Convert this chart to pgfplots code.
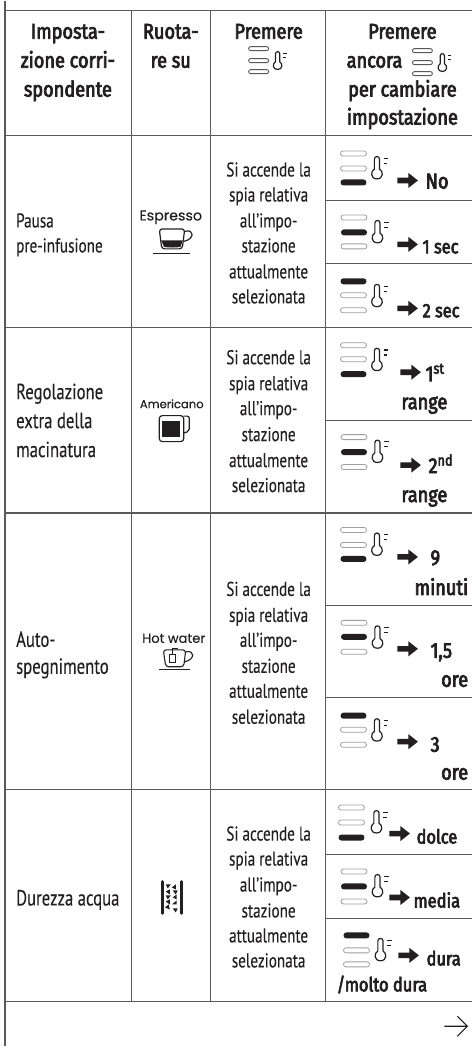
\documentclass[border=0pt]{standalone}
\usepackage{fontspec}
\setmainfont[FakeStretch=0.76,FakeBold=0.2]{PT Sans}
\newfontfamily\pop[FakeBold=0.35]{Poppins}
\newfontfamily\hdf[FakeStretch=0.845,FakeBold=3.4]{Fira Sans}
\usepackage{pgfplots}
\pgfplotsset{compat=1.18}
\definecolor{ink}{HTML}{231F20}
\definecolor{gridc}{HTML}{5A5A5A}
\newcommand{\hl}[4][1.3pt]{\addplot[gridc,line width=#1,forget plot] coordinates {(#2,#4)(#3,#4)};}
\newcommand{\vl}[4][1.3pt]{\addplot[gridc,line width=#1,forget plot] coordinates {(#4,#2)(#4,#3)};}
\newcommand{\bod}[3]{\node[anchor=base,inner sep=0,text=ink,font=\fontsize{20}{24}\selectfont] at (axis cs:#1,#2) {#3};}
\newcommand{\bodl}[3]{\node[anchor=base west,inner sep=0,text=ink,font=\fontsize{20}{24}\selectfont] at (axis cs:#1,#2) {#3};}
\newcommand{\lgl}[3]{\node[anchor=base west,inner sep=0,text=ink,font=\fontsize{22}{24}\selectfont] at (axis cs:#1,#2) {#3};}
\newcommand{\hd}[3]{\node[anchor=base,inner sep=0,text=ink,font=\fontsize{21.5}{24}\hdf\selectfont] at (axis cs:#1,#2) {#3};}
\newcommand{\hdl}[3]{\node[anchor=base west,inner sep=0,text=ink,font=\fontsize{21.5}{24}\hdf\selectfont] at (axis cs:#1,#2) {#3};}
\newcommand{\hdr}[3]{\node[anchor=base east,inner sep=0,text=ink,font=\fontsize{21.5}{24}\hdf\selectfont] at (axis cs:#1,#2) {#3};}
\newcommand{\sm}[3]{\node[anchor=base west,inner sep=0,text=ink,font=\fontsize{19.5}{24}\hdf\selectfont] at (axis cs:#1,#2) {#3};}
\newcommand{\lab}[4]{\node[anchor=base,inner sep=0,text=ink,font=\fontsize{#3}{14}\pop\selectfont] at (axis cs:#1,#2) {#4};}
% icons, in reference pixels
\newcommand{\thermoshape}{%
 \draw[ink,line width=1.2pt,line join=round] (-2.6,12.6) -- (-2.6,2.6) .. controls (-2.6,-0.8) and (2.6,-0.8) .. (2.6,2.6) -- (2.6,12.6)
   .. controls (6.6,14.6) and (6.6,22.4) .. (0,22.4) .. controls (-6.6,22.4) and (-6.6,14.6) .. (-2.6,12.6);
 \draw[ink,line width=1.1pt] (6.6,1.8) -- (11.4,1.8) (6.6,6.8) -- (10.4,6.8);}
\newcommand{\thermo}[2]{\begin{scope}[shift={(#1,#2)}]\thermoshape\end{scope}}
\newcommand{\hbarr}[4]{% x, y, len, active(1/0)
 \ifnum#4=1
  \fill[ink,rounded corners=2.9pt] (#1,#2-3) rectangle (#1+#3,#2+3);
 \else
  \draw[gray!75,line width=.8pt,rounded corners=2.4pt,fill=white] (#1,#2-2.5) rectangle (#1+#3,#2+2.5);
 \fi}
\newcommand{\ind}[6]{% x, y1, y2, y3, active (1,2,3 top to bottom), thermo x
 \ifnum#5=1 \hbarr{#1}{#2}{26}{1}\else\hbarr{#1}{#2}{26}{0}\fi
 \ifnum#5=2 \hbarr{#1}{#3}{26}{1}\else\hbarr{#1}{#3}{26}{0}\fi
 \ifnum#5=3 \hbarr{#1}{#4}{26}{1}\else\hbarr{#1}{#4}{26}{0}\fi
 \thermo{#6}{#2+3}}
\newcommand{\arr}[2]{\fill[ink] (#1,#2-2.8) -- (#1+11,#2-2.8) -- (#1+11,#2-7.5) -- (#1+20.5,#2) -- (#1+11,#2+7.5) -- (#1+11,#2+2.8) -- (#1,#2+2.8) -- cycle;}
\newcommand{\hdrind}[5]{% x, y1,y2,y3, thermo x
 \draw[ink!75,line width=.9pt,rounded corners=2pt,fill=white] (#1,#2-2) rectangle (#1+20,#2+2);
 \draw[ink!75,line width=.9pt,rounded corners=2pt,fill=white] (#1,#3-2) rectangle (#1+20,#3+2);
 \draw[ink!75,line width=.9pt,rounded corners=2pt,fill=white] (#1,#4-2) rectangle (#1+20,#4+2);
 \begin{scope}[shift={(#5,#2+3)},scale=.8]\thermoshape\end{scope}}
\begin{document}
\begin{tikzpicture}
\begin{axis}[hide axis,scale only axis,width=473pt,height=1047pt,
  xmin=0,xmax=473,ymin=0,ymax=1047,y dir=reverse,clip=false,no markers]
% outer and column lines
\vl[1.5pt]{0}{1047}{5}
\hl{5}{473}{10}
\hl{5}{473}{135}
\hl{5}{473}{327}
\hl{5}{473}{513}
\hl{5}{473}{790}
\hl[1pt]{5}{473}{1002}
\vl{10}{1002}{132}
\vl[1pt]{10}{1002}{211}
\vl[1pt]{10}{1002}{326}
% sub-rows
\hl{326}{473}{200}
\hl{326}{473}{263}
\hl[1pt]{326}{473}{420}
\hl[1pt]{326}{473}{606}
\hl[1pt]{326}{473}{698}
\hl{326}{473}{855}
\hl{326}{473}{919}
% header
\hd{68}{38}{Imposta-}
\hd{68}{67}{zione corri-}
\hd{68}{96}{spondente}
\hd{171}{38}{Ruota-}
\hd{171}{67}{re su}
\hd{269}{38}{Premere}
\hd{403}{38}{Premere}
\hdl{347}{67}{ancora}
\hd{403}{96}{per cambiare}
\hd{403}{124}{impostazione}
% first column
\bodl{16}{227}{Pausa}
\bodl{16}{252}{pre-infusione}
\lgl{16}{399}{Regolazione}
\lgl{16}{428}{extra della}
\lgl{16}{457}{macinatura}
\lgl{16}{647}{Auto-}
\lgl{16}{674}{spegnimento}
\lgl{16}{906}{Durezza acqua}
% icon labels
\lab{171}{220}{14.3}{Espresso}
\lab{172}{408}{11.6}{Americano}
\lab{174}{643}{13.1}{Hot water}
% third column
\bod{269}{176}{Si accende la}
\bod{269}{201}{spia relativa}
\bod{269}{227}{all’impo-}
\bod{269}{252}{stazione}
\bod{269}{278}{attualmente}
\bod{269}{303}{selezionata}
\bod{269}{364}{Si accende la}
\bod{269}{390}{spia relativa}
\bod{269}{415}{all’impo-}
\bod{269}{441}{stazione}
\bod{269}{467}{attualmente}
\bod{269}{492}{selezionata}
\bod{269}{596}{Si accende la}
\bod{269}{622}{spia relativa}
\bod{269}{647}{all’impo-}
\bod{269}{673}{stazione}
\bod{269}{698}{attualmente}
\bod{269}{724}{selezionata}
\bod{269}{841}{Si accende la}
\bod{269}{866}{spia relativa}
\bod{269}{892}{all’impo-}
\bod{269}{918}{stazione}
\bod{269}{943}{attualmente}
\bod{269}{968}{selezionata}
% fourth column
\hdl{426}{188}{No}
\sm{423}{253}{1 sec}
\sm{423}{317}{2 sec}
\hdl{426}{381}{1\textsuperscript{st}}
\hd{425}{409}{range}
\hdl{429}{473}{2\textsuperscript{nd}}
\hd{425}{502}{range}
\hdl{431}{565}{9}
\hdr{469}{595}{minuti}
\hdl{431}{658}{1,5}
\hdr{469}{687}{ore}
\hdl{431}{752}{3}
\hdr{469}{780}{ore}
\sm{417}{844}{dolce}
\sm{414}{908}{media}
\sm{427}{966}{dura}
\sm{337}{992}{/molto dura}
\end{axis}
\begin{scope}[x=1pt,y=-1pt,yshift=1047pt]
\path[use as bounding box] (0,0) rectangle (473,1047);
% header icons
\hdrind{249}{48}{60}{71}{278}
\hdrind{413}{50}{62}{73}{443}
% indicators
\ind{341}{153}{168}{182}{3}{377.5}
\arr{398}{180}
\ind{341.5}{217}{232}{246}{2}{378}
\arr{398}{244}
\ind{341}{281}{295}{310}{1}{377.5}
\arr{398}{308}
\ind{341}{345}{359}{374}{3}{377.5}
\arr{401}{372}
\ind{341.5}{437}{452}{467}{2}{378}
\arr{401}{465}
\ind{341}{530}{545}{559}{3}{377.5}
\arr{398}{557}
\ind{341.5}{623}{637}{652}{2}{378}
\arr{398}{649}
\ind{341}{716}{730}{745}{1}{377.5}
\arr{398}{742}
\ind{339}{808}{823}{838}{3}{377}
\arr{390}{834}
\ind{341.5}{872}{887}{902}{2}{378}
\arr{390}{898}
\ind{344}{936}{951}{965}{1}{381}
\arr{399}{956}
% espresso cup
\fill[ink] (161.5,240) -- (183,240) -- (181,246) .. controls (180,247.5) and (165,247.5) .. (164,246) -- cycle;
\draw[ink,line width=1.2pt,rounded corners=3pt] (159.5,228.5) -- (185,228.5) -- (182.5,248.5) -- (162,248.5) -- cycle;
\draw[ink,line width=1.2pt] (185,231) .. controls (195,228) and (195,239) .. (184,241);
\draw[ink,line width=1.2pt] (153,253) -- (190,253);
% americano mug
\draw[ink,line width=1.2pt,rounded corners=3pt] (159.5,415.5) rectangle (184,441.5);
\fill[ink] (162.5,421) rectangle (180,437);
\draw[ink,line width=1.2pt,rounded corners=2pt] (184,416) -- (189.5,416) -- (189.5,431) -- (184,433);
% hot water cup
\draw[ink,line width=1.1pt,rounded corners=3pt] (163.5,650) -- (186,650) -- (184,667) -- (166,667) -- cycle;
\draw[ink,line width=1.1pt] (186,652) .. controls (196,650) and (195,660) .. (185,662);
\draw[ink,line width=1.1pt] (159,670) -- (190,670);
\draw[ink,line width=1pt] (169.5,655) rectangle (175.5,663);
\draw[ink,line width=.9pt] (172.5,655) -- (172.5,648.5) -- (178,648.5);
% water filter
\draw[ink,line width=2.6pt,line cap=round] (162.5,882) -- (162.5,914) (182,882) -- (182,914);
\fill[ink] (166,885) -- (171,885) -- (168,889) -- cycle
 (176,885) -- (176,890) -- (172,888) -- cycle
 (166,892) -- (170,890) -- (170,895) -- cycle
 (173,891) -- (178,891) -- (176,895) -- cycle
 (166,896) -- (171,896) -- (168,900) -- cycle
 (177,895) -- (177,900) -- (173,898) -- cycle
 (166,902) -- (170,900) -- (170,905) -- cycle
 (172,905) -- (177,901) -- (177,905) -- cycle
 (165,908) -- (169,905) -- (170,910) -- cycle
 (173,909) -- (178,909) -- (176,913) -- cycle;
% page-turn arrow
\draw[ink,line width=1.1pt] (445,1027) -- (467.5,1027) (458,1017) -- (468,1027) -- (458,1037);
\end{scope}
\end{tikzpicture}
\end{document}
